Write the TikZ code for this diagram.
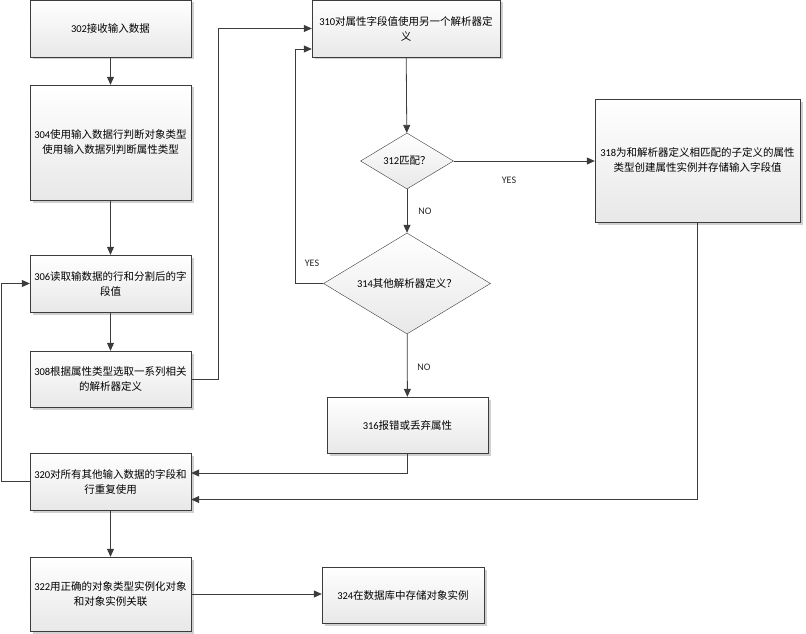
\documentclass[tikz,border=0pt]{standalone}
\usepackage{fontspec}
\setmainfont{Carlito}
\newfontfamily\cjk{Noto Sans CJK SC}
\usetikzlibrary{arrows.meta,shapes.geometric,shadows}

\definecolor{flowline}{HTML}{3C3C3C}
\definecolor{flowfill}{HTML}{E8E8E8}
\definecolor{flowshadow}{HTML}{D0D0D0}
\newcommand{\zh}[1]{{\cjk #1}}

\begin{document}
\begin{tikzpicture}[x=1pt,y=-1pt,
    stepbox/.style={draw=flowline, rectangle, top color=white, bottom color=flowfill,
        drop shadow={shadow xshift=2.5pt, shadow yshift=-2.5pt, fill=flowshadow, opacity=1},
        minimum width=161pt, minimum height=57pt, inner sep=1pt, align=center,
        font=\fontsize{10.5}{15}\selectfont},
    decision/.style={draw=flowline, diamond, top color=white, bottom color=flowfill,
        inner sep=0pt, align=center, font=\fontsize{10.5}{15}\selectfont},
    flow/.style={flowline, line width=0.8pt, -{Triangle[length=8pt,width=7pt]}},
    tag/.style={font=\fontsize{10}{12}\selectfont, text=black!85}]
    \useasboundingbox (0,0) rectangle (806,634);

    % Left column
    \node[stepbox] (s302) at (110.5,28.5) {302\zh{接收输入数据}};
    \node[stepbox, minimum height=115pt] (s304) at (110.5,142.5)
        {304\zh{使用输入数据行判断对象类型}\\\zh{使用输入数据列判断属性类型}};
    \node[stepbox] (s306) at (110.5,283.5) {306\zh{读取输数据的行和分割后的字}\\\zh{段值}};
    \node[stepbox, minimum height=56pt] (s308) at (110.5,379)
        {308\zh{根据属性类型选取一系列相关}\\\zh{的解析器定义}};
    \node[stepbox] (s320) at (110.5,481.5) {320\zh{对所有其他输入数据的字段和}\\\zh{行重复使用}};
    \node[stepbox, minimum height=74pt] (s322) at (110.5,594)
        {322\zh{用正确的对象类型实例化对象}\\\zh{和对象实例关联}};

    % Middle column
    \node[stepbox, minimum width=188pt] (s310) at (406,28.5)
        {310\zh{对属性字段值使用另一个解析器定}\\\zh{义}};
    \node[decision, minimum width=93pt, minimum height=56pt, aspect=1.66] (d312) at (407,161)
        {312\zh{匹配？}};
    \node[decision, minimum width=167pt, minimum height=101pt, aspect=1.65] (d314) at (407,283.5)
        {314\zh{其他解析器定义？}};
    \node[stepbox, minimum height=56pt] (s316) at (407.5,425) {316\zh{报错或丢弃属性}};
    \node[stepbox, minimum width=162pt, minimum height=56pt] (s324) at (403,595)
        {324\zh{在数据库中存储对象实例}};

    % Right column
    \node[stepbox, minimum width=205pt, minimum height=123pt] (s318) at (697.5,160.5)
        {318\zh{为和解析器定义相匹配的子定义的属性}\\\zh{类型创建属性实例并存储输入字段值}};

    % Connectors
    \draw[flow] (s302) -- (s304);
    \draw[flow] (s304) -- (s306);
    \draw[flow] (s306) -- (s308);
    \draw[flow] (s308.east) -- ++(27,0) |- (s310.west);
    \draw[flow] (s310) -- (d312);
    \draw[flow] (d312.east) -- (s318.west |- d312.east);
    \draw[flow] (d312) -- (d314);
    \draw[flow] (d314.west) -- ++(-28,0) |- ([yshift=-20.5pt]s310.west);
    \draw[flow] (d314) -- (s316);
    \draw[flow] (s316.south) |- ([yshift=8.5pt]s320.east);
    \draw[flow] (s318.south) |- ([yshift=-18pt]s320.east);
    \draw[flow] (s320.west) -- ++(-28,0) |- (s306.west);
    \draw[flow] (s320) -- (s322);
    \draw[flow] (s322.east) -- (s322.east -| s324.west);

    % Labels
    \node[tag] (yes312) at (509,180) {YES};
    \node[tag] (no312) at (425,211) {NO};
    \node[tag] (yes314) at (312,263) {YES};
    \node[tag] (no314) at (424,367) {NO};
\end{tikzpicture}
\end{document}
